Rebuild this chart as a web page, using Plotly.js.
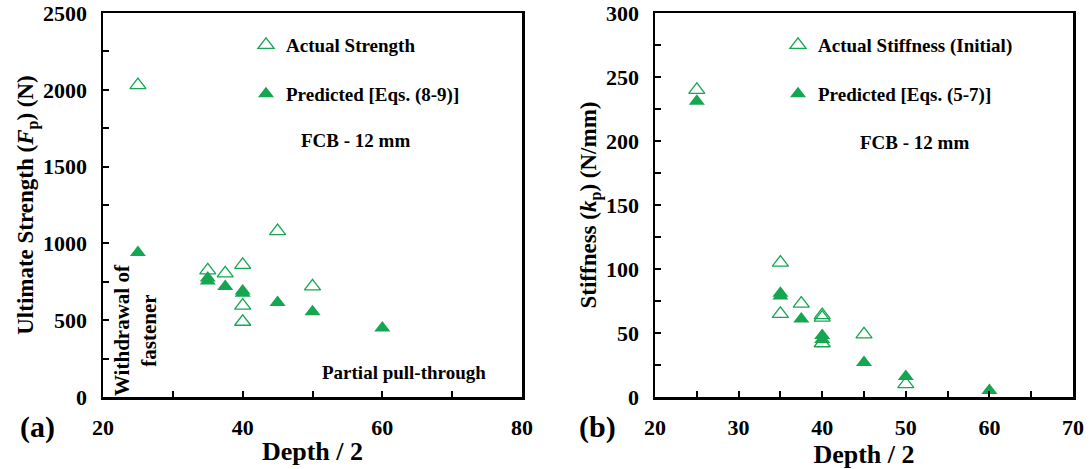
<!DOCTYPE html>
<html>
<head>
<meta charset="utf-8">
<script src="https://cdn.plot.ly/plotly-3.0.1.min.js"></script>
<style>html,body{margin:0;padding:0;background:#fff;}#chart{width:1091px;height:469px;}</style>
</head>
<body>
<div id="chart"></div>
<script>
// ---- Data ----
const strengthActualDepth = [25, 35, 37.5, 40, 40, 40, 45, 50];
const strengthActual      = [2030, 825, 805, 860, 595, 490, 1080, 720];
const strengthPredDepth   = [25, 35, 35, 37.5, 40, 40, 45, 50, 60];
const strengthPred        = [940, 775, 755, 720, 690, 675, 615, 555, 450];

const stiffActualDepth = [25, 35, 35, 37.5, 40, 40, 40, 45, 50];
const stiffActual      = [240, 105, 65, 73, 64, 62, 42, 49, 10];
const stiffPredDepth   = [25, 35, 35, 37.5, 40, 40, 45, 50, 60];
const stiffPred        = [231, 81, 79, 61, 48, 45, 27, 16, 5];

const legendNames = ['Actual Strength', 'Predicted [Eqs. (8-9)]', 'Actual Stiffness (Initial)', 'Predicted [Eqs. (5-7)]'];

const GREEN = '#14a651';
const FONT = 'Liberation Serif, Times New Roman, serif';
const b = t => '<b>' + t + '</b>';

const openMarker = {symbol: 'triangle-up-open', size: 14, color: GREEN, line: {color: GREEN, width: 1.3}};
const fillMarker = {symbol: 'triangle-up', size: 14, color: GREEN, line: {width: 0}};

const traces = [
  {x: strengthActualDepth, y: strengthActual, type: 'scatter', mode: 'markers', name: b(legendNames[0]), marker: openMarker, xaxis: 'x', yaxis: 'y', legend: 'legend'},
  {x: strengthPredDepth, y: strengthPred, type: 'scatter', mode: 'markers', name: b(legendNames[1]), marker: fillMarker, xaxis: 'x', yaxis: 'y', legend: 'legend2'},
  {x: stiffActualDepth, y: stiffActual, type: 'scatter', mode: 'markers', name: b(legendNames[2]), marker: openMarker, xaxis: 'x2', yaxis: 'y2', legend: 'legend3'},
  {x: stiffPredDepth, y: stiffPred, type: 'scatter', mode: 'markers', name: b(legendNames[3]), marker: fillMarker, xaxis: 'x2', yaxis: 'y2', legend: 'legend4'}
];

const tickFont = {family: FONT, size: 22, color: '#000', weight: 'bold'};
function axisBase(extra) {
  return Object.assign({
    showline: true, linecolor: '#000', linewidth: 2.5, mirror: true,
    ticks: 'inside', ticklen: 6, tickwidth: 2, tickcolor: '#000',
    showgrid: false, zeroline: false, tickfont: tickFont, ticklabelstandoff: 9,
    tickprefix: '<b>', ticksuffix: '</b>'
  }, extra);
}

const W = 1091, H = 469;
const mL = 103, mR = 18, mT = 13, mB = 72;
const pw = W - mL - mR, ph = H - mT - mB;
const px = v => (v - mL) / pw;
const py = v => 1 - (v - mT) / ph;
const legendBase = {bgcolor: 'rgba(0,0,0,0)', borderwidth: 0, xanchor: 'left', yanchor: 'middle',
  font: {family: FONT, size: 19, color: '#000', weight: 'bold'}, itemwidth: 30};
const annFont = s => ({family: FONT, size: s, color: '#000', weight: 'bold'});
function ann(text, x, y, size, extra) {
  return Object.assign({text: b(text), xref: 'paper', yref: 'paper', x: px(x), y: py(y), xanchor: 'center', yanchor: 'middle',
    showarrow: false, font: annFont(size)}, extra || {});
}

const layout = {
  width: W, height: H,
  margin: {l: mL, r: mR, t: mT, b: mB},
  paper_bgcolor: '#fff', plot_bgcolor: '#fff',
  font: {family: FONT, color: '#000'},
  showlegend: true,
  xaxis: axisBase({domain: [0, px(522)], range: [20, 80], tick0: 20, dtick: 20,
    minor: {dtick: 10, ticks: 'inside', ticklen: 6, tickwidth: 2, tickcolor: '#000'},
    title: {text: b('Depth / 2'), font: annFont(26), standoff: 3}, anchor: 'y'}),
  yaxis: axisBase({domain: [0, 1], range: [0, 2500], tick0: 0, dtick: 500,
    minor: {dtick: 250, ticks: 'inside', ticklen: 6, tickwidth: 2, tickcolor: '#000'},
    title: {text: b('Ultimate Strength (<i>F</i><sub>p</sub>) (N)'), font: annFont(23), standoff: 3}, anchor: 'x'}),
  xaxis2: axisBase({domain: [px(655), 1], range: [20, 70], tick0: 20, dtick: 10,
    minor: {dtick: 5, ticks: 'inside', ticklen: 6, tickwidth: 2, tickcolor: '#000'},
    title: {text: b('Depth / 2'), font: annFont(26), standoff: 3}, anchor: 'y2'}),
  yaxis2: axisBase({domain: [0, 1], range: [0, 300], tick0: 0, dtick: 50,
    minor: {dtick: 25, ticks: 'inside', ticklen: 6, tickwidth: 2, tickcolor: '#000'},
    title: {text: b('Stiffness (<i>k</i><sub>p</sub>) (N/mm)'), font: annFont(23), standoff: 3}, anchor: 'x2'}),
  legend:  Object.assign({}, legendBase, {x: px(246), y: py(45)}),
  legend2: Object.assign({}, legendBase, {x: px(246), y: py(94)}),
  legend3: Object.assign({}, legendBase, {x: px(778), y: py(45)}),
  legend4: Object.assign({}, legendBase, {x: px(778), y: py(94)}),
  annotations: [
    ann('FCB - 12 mm', 355, 140, 19),
    ann('FCB - 12 mm', 914, 142, 19),
    ann('Partial pull-through', 404, 372, 19),
    ann('Withdrawal of<br>fastener', 135, 330, 21, {textangle: -90, align: 'center'}),
    ann('(a)', 37, 427, 30),
    ann('(b)', 597, 427, 30)
  ]
};

Plotly.newPlot('chart', traces, layout, {displayModeBar: false, staticPlot: true});
</script>
</body>
</html>
